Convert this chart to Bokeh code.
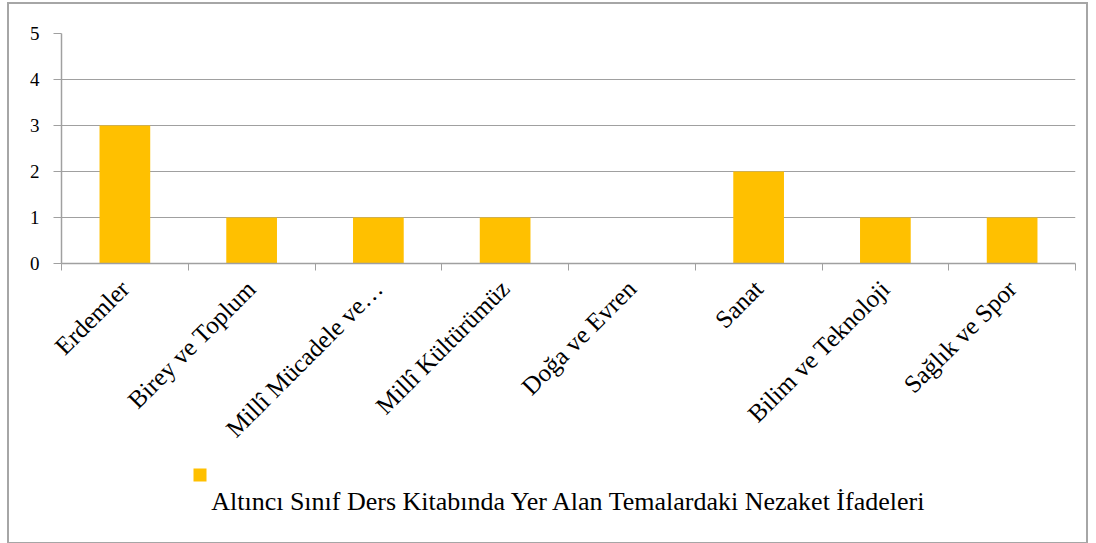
import math
from bokeh.plotting import figure
from bokeh.layouts import column
from bokeh.models import Range1d, LinearAxis, FixedTicker
from bokeh.core.properties import value
from bokeh.embed import file_html
from bokeh.resources import INLINE

categories = ["Erdemler", "Birey ve Toplum", "Millî Mücadele ve…", "Millî Kültürümüz",
              "Doğa ve Evren", "Sanat", "Bilim ve Teknoloji", "Sağlık ve Spor"]
values = [3, 1, 1, 1, 0, 2, 1, 1]
y_ticks = [0, 1, 2, 3, 4, 5]
series_name = "Altıncı Sınıf Ders Kitabında Yer Alan Temalardaki Nezaket İfadeleri"

BAR = "#FFC000"
GRAY = "#A0A0A0"
FONT = "Liberation Serif"

n = len(categories)
centers = [i + 0.5 for i in range(n)]
bounds = list(range(n + 1))

W = 1077
H_MAIN = 29 + 230 + 187
H_LEG = 534 - H_MAIN

p = figure(x_range=Range1d(0, n), y_range=Range1d(0, 5),
           frame_width=1014, frame_height=230,
           min_border_left=52, min_border_right=11, min_border_top=29, min_border_bottom=187,
           x_axis_location=None, y_axis_location=None, title_location=None,
           align="start",
           output_backend="svg", toolbar_location=None, tools="")
p.outline_line_color = None
p.background_fill_color = "white"
p.border_fill_color = "white"

p.vbar(x=centers, top=values, width=0.4, fill_color=BAR, line_color=None)

yax = LinearAxis(ticker=FixedTicker(ticks=y_ticks))
yax.axis_line_color = GRAY
yax.axis_line_width = 1.5
yax.major_tick_line_color = GRAY
yax.major_tick_out = 8
yax.major_tick_in = 0
yax.minor_tick_line_color = None
yax.major_label_standoff = 14
yax.major_label_text_font = FONT
yax.major_label_text_font_size = "19px"
yax.major_label_text_color = "black"
p.add_layout(yax, "left")

cax = LinearAxis(ticker=FixedTicker(ticks=centers, minor_ticks=bounds),
                 major_label_overrides={c: name for c, name in zip(centers, categories)})
cax.axis_line_color = GRAY
cax.axis_line_width = 1.5
cax.major_tick_line_color = None
cax.major_tick_out = 0
cax.major_tick_in = 0
cax.minor_tick_line_color = GRAY
cax.minor_tick_out = 7
cax.minor_tick_in = 0
cax.major_label_orientation = math.pi / 4
cax.major_label_standoff = 14
cax.major_label_text_font = FONT
cax.major_label_text_font_size = "25px"
cax.major_label_text_color = "black"
p.add_layout(cax, "below")

p.ygrid.grid_line_color = GRAY
p.ygrid.ticker = FixedTicker(ticks=y_ticks)
p.xgrid.grid_line_color = None

# legend strip (pixel coordinates, y downward; frame is aligned with the chart frame)
leg = figure(x_range=Range1d(0, W), y_range=Range1d(H_LEG, 0),
             frame_width=W, frame_height=H_LEG,
             min_border_left=0, min_border_right=0, min_border_top=0, min_border_bottom=0,
             x_axis_location=None, y_axis_location=None, title_location=None,
             align="start",
             output_backend="svg", toolbar_location=None, tools="")
leg.grid.visible = False
leg.outline_line_color = None
leg.background_fill_color = "white"
leg.border_fill_color = "white"
leg.quad(left=[132], right=[145], top=[14], bottom=[27], fill_color=BAR, line_color=None)
leg.text(x=[149.7], y=[47], text=[series_name], text_font=value(FONT),
         text_font_size="26px", text_align="left", text_baseline="alphabetic",
         text_color="black")

layout = column(p, leg, spacing=0,
                styles={"border": "2px solid #A6A6A6", "margin-left": "7px", "margin-top": "2px"})

open("out.html", "w").write(file_html(layout, INLINE))
